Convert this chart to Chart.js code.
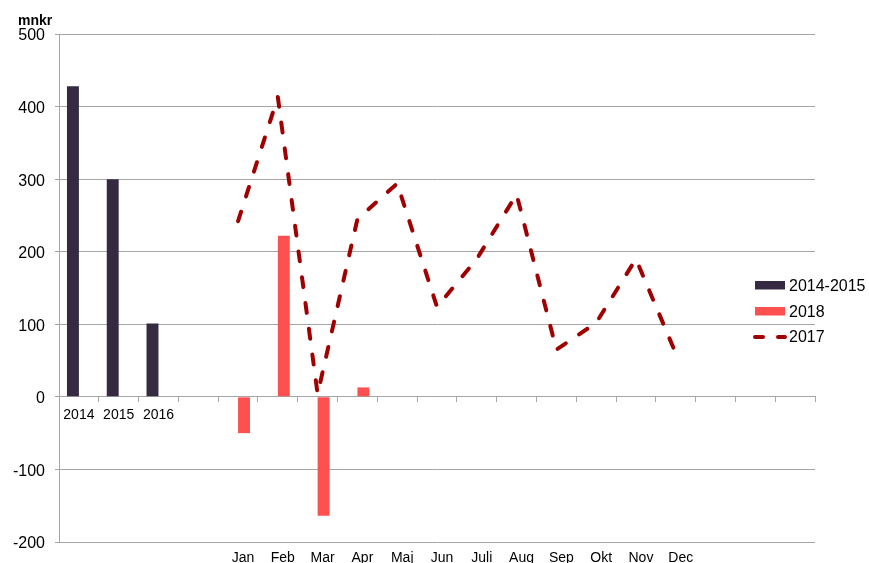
<!DOCTYPE html>
<html>
<head>
<meta charset="utf-8">
<script src="https://cdn.jsdelivr.net/npm/chart.js@4/dist/chart.umd.min.js"></script>
<style>
html,body{margin:0;padding:0;background:#fff;}
#wrap{width:869px;height:563px;position:relative;}
</style>
</head>
<body>
<div id="wrap"><canvas id="c" width="869" height="563"></canvas></div>
<script>
// Category tick labels
const yearLabels  = ['2014','2015','2016','','','','','','','','','','','','','','','',''];
const monthLabels = ['','','','','Jan','Feb','Mar','Apr','Maj','Jun','Juli','Aug','Sep','Okt','Nov','Dec','','',''];
// Series values
const s20142015 = [428, 300, 101, null, null, null, null, null, null, null, null, null, null, null, null, null, null, null, null];
const s2018     = [null, null, null, null, -50, 222, -164, 13, null, null, null, null, null, null, null, null, null, null, null];
const s2017     = [null, null, null, null, 242, 413, 4, 245, 294, 124, 190, 279, 65, 102, 190, 60, null, null, null];
// Y axis
const yMin = -200, yMax = 500, yStep = 100;
const unitLabel = 'mnkr';

const FONT = '"Liberation Sans", Arial, sans-serif';
const GRID = '#a6a6a6';
const C_DARK = '#352a41';
const C_RED = '#ff5050';
const C_LINE = '#a00000';

const extras = {
  id: 'extras',
  afterDraw(chart) {
    const ctx = chart.ctx;
    ctx.save();
    ctx.fillStyle = '#000';
    ctx.font = 'bold 14px ' + FONT;
    ctx.textBaseline = 'alphabetic';
    ctx.textAlign = 'left';
    ctx.fillText(unitLabel, 18, 25);
    // legend
    const ds = chart.data.datasets;
    const lx = 755, tx = 789;
    ctx.font = '16px ' + FONT;
    ctx.fillStyle = ds[0].backgroundColor;
    ctx.fillRect(lx, 281, 30, 8.5);
    ctx.fillStyle = '#000';
    ctx.fillText(ds[0].label, tx, 291);
    ctx.fillStyle = ds[1].backgroundColor;
    ctx.fillRect(lx, 307, 30, 8.5);
    ctx.fillStyle = '#000';
    ctx.fillText(ds[1].label, tx, 316.5);
    ctx.strokeStyle = ds[2].borderColor;
    ctx.lineWidth = 4;
    ctx.lineCap = 'round';
    ctx.setLineDash([8, 15]);
    ctx.beginPath();
    ctx.moveTo(755, 337);
    ctx.lineTo(785, 337);
    ctx.stroke();
    ctx.setLineDash([]);
    ctx.fillStyle = '#000';
    ctx.fillText(ds[2].label, tx, 342);
    ctx.restore();
  }
};

new Chart(document.getElementById('c'), {
  data: {
    labels: yearLabels,
    datasets: [
      { type: 'bar', label: '2014-2015', data: s20142015, backgroundColor: C_DARK,
        categoryPercentage: 0.6, barPercentage: 1.0, order: 2, xAxisID: 'x', yAxisID: 'y' },
      { type: 'bar', label: '2018', data: s2018, backgroundColor: C_RED,
        categoryPercentage: 0.6, barPercentage: 1.0, order: 2, xAxisID: 'x', yAxisID: 'y' },
      { type: 'line', label: '2017', data: s2017, borderColor: C_LINE, backgroundColor: C_LINE,
        borderWidth: 4, borderDash: [10, 16], borderCapStyle: 'round', borderJoinStyle: 'round',
        pointRadius: 0, tension: 0, spanGaps: false, fill: false, order: 0, xAxisID: 'x', yAxisID: 'y' }
    ]
  },
  options: {
    responsive: false,
    animation: false,
    events: [],
    layout: { padding: { top: 34, right: 54, left: 0, bottom: 0 } },
    plugins: { legend: { display: false }, title: { display: false }, tooltip: { enabled: false } },
    scales: {
      y: {
        type: 'linear', position: 'left', min: yMin, max: yMax,
        ticks: { stepSize: yStep, color: '#000', font: { family: FONT, size: 16 }, padding: 10, labelOffset: 2 },
        grid: { color: GRID, lineWidth: 1, tickLength: 4, drawTicks: true },
        border: { display: true, color: GRID, width: 1 },
        afterFit: (s) => { s.width = 59; }
      },
      x: {
        type: 'category', labels: yearLabels, position: { y: 0 }, offset: true,
        ticks: { color: '#000', font: { family: FONT, size: 14 }, padding: 5, autoSkip: false, maxRotation: 0 },
        grid: { drawOnChartArea: false, offset: true, tickLength: 5, color: GRID },
        border: { display: true, color: GRID, width: 1 }
      },
      x2: {
        type: 'category', labels: monthLabels, position: 'bottom', offset: true,
        ticks: { color: '#000', font: { family: FONT, size: 14 }, padding: 8, labelOffset: 5, autoSkip: false, maxRotation: 0 },
        grid: { display: false, drawTicks: false },
        border: { display: false },
        afterFit: (s) => { s.height = 21; }
      }
    }
  },
  plugins: [extras]
});
</script>
</body>
</html>
